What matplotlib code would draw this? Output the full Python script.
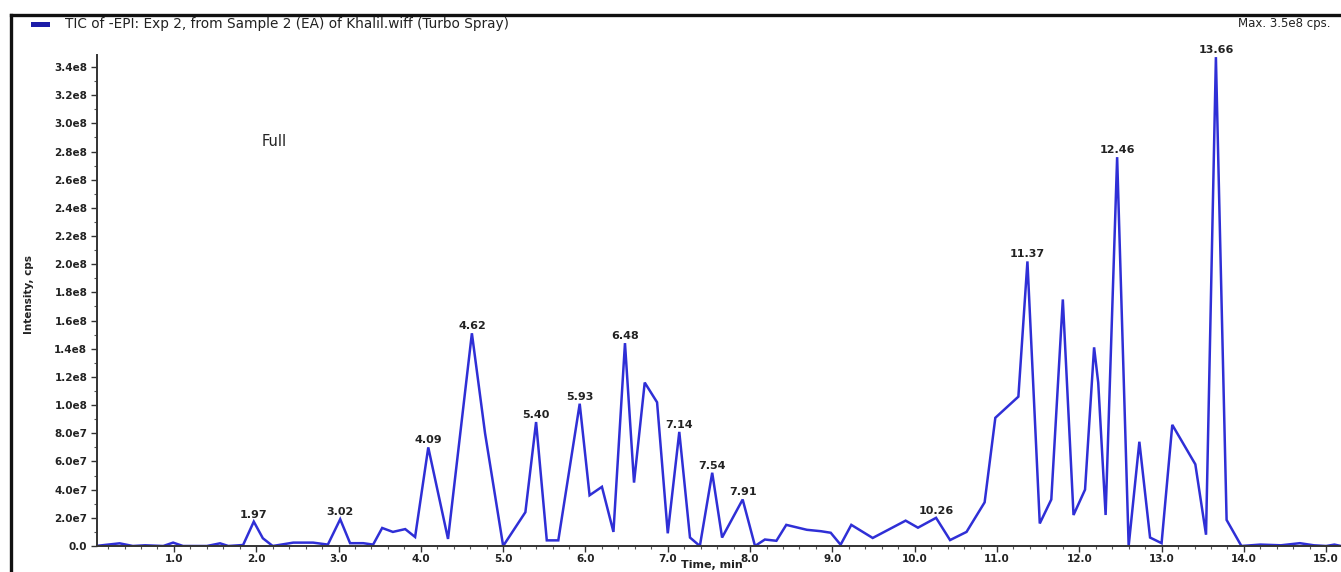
import matplotlib
matplotlib.use("Agg")
import matplotlib.pyplot as plt
from matplotlib.lines import Line2D
from matplotlib.patches import Rectangle
from matplotlib.ticker import FuncFormatter, MultipleLocator
import numpy as np

plt.rcParams['font.family'] = ['DejaVu Sans']

# ---- data (time in min, intensity in cps) ----
time_min = [0.08, 0.20, 0.34, 0.50, 0.65, 0.87, 0.99, 1.11, 1.40, 1.56, 1.66, 1.84,
            1.97, 2.08, 2.20, 2.45, 2.69, 2.87, 3.02, 3.14, 3.30, 3.42, 3.53, 3.66,
            3.81, 3.93, 4.09, 4.33, 4.62, 4.78, 5.00, 5.27, 5.40, 5.53, 5.67, 5.93,
            6.05, 6.20, 6.34, 6.48, 6.59, 6.72, 6.87, 7.00, 7.14, 7.27, 7.39, 7.54,
            7.66, 7.91, 8.06, 8.18, 8.32, 8.44, 8.69, 8.86, 8.98, 9.10, 9.23, 9.49,
            9.89, 10.04, 10.26, 10.43, 10.63, 10.85, 10.98, 11.26, 11.37, 11.52,
            11.66, 11.80, 11.93, 12.07, 12.18, 12.23, 12.32, 12.46, 12.60, 12.73,
            12.86, 13.00, 13.13, 13.41, 13.54, 13.66, 13.79, 13.97, 14.20, 14.45,
            14.68, 14.85, 15.00, 15.10, 15.18]
intensity = [0.02e7, 0.10e7, 0.19e7, 0.0, 0.05e7, 0.0, 0.24e7, 0.0, 0.0, 0.19e7, 0.0, 0.07e7,
             1.73e7, 0.55e7, 0.0, 0.24e7, 0.24e7, 0.10e7, 1.90e7, 0.20e7, 0.20e7, 0.10e7, 1.28e7, 1.00e7,
             1.20e7, 0.64e7, 7.00e7, 0.50e7, 1.51e8, 8.00e7, 0.0, 2.40e7, 8.80e7, 0.40e7, 0.40e7, 1.01e8,
             3.60e7, 4.20e7, 1.00e7, 1.44e8, 4.50e7, 1.16e8, 1.02e8, 0.90e7, 8.10e7, 0.60e7, 0.0, 5.20e7,
             0.60e7, 3.30e7, 0.0, 0.46e7, 0.37e7, 1.50e7, 1.15e7, 1.05e7, 0.94e7, 0.09e7, 1.50e7, 0.57e7,
             1.80e7, 1.30e7, 2.00e7, 0.42e7, 1.00e7, 3.10e7, 9.10e7, 1.06e8, 2.02e8, 1.60e7,
             3.30e7, 1.75e8, 2.20e7, 4.00e7, 1.41e8, 1.16e8, 2.20e7, 2.76e8, 0.0, 7.40e7,
             0.60e7, 0.20e7, 8.60e7, 5.80e7, 0.80e7, 3.47e8, 1.85e7, 0.0, 0.10e7, 0.05e7,
             0.20e7, 0.05e7, 0.0, 0.10e7, 0.0]

peak_labels = ["1.97", "3.02", "4.09", "4.62", "5.40", "5.93", "6.48", "7.14", "7.54",
               "7.91", "10.26", "11.37", "12.46", "13.66"]

y_ticks = [0.0, 2.0e7, 4.0e7, 6.0e7, 8.0e7, 1.0e8, 1.2e8, 1.4e8, 1.6e8, 1.8e8, 2.0e8,
           2.2e8, 2.4e8, 2.6e8, 2.8e8, 3.0e8, 3.2e8, 3.4e8]
x_ticks = [1.0, 2.0, 3.0, 4.0, 5.0, 6.0, 7.0, 8.0, 9.0, 10.0, 11.0, 12.0, 13.0, 14.0, 15.0]

title_text = "TIC of -EPI: Exp 2, from Sample 2 (EA) of Khalil.wiff (Turbo Spray)"
max_text = "Max. 3.5e8 cps."
inner_text = "Full"
x_label = "Time, min"
y_label = "Intensity, cps"

# ---- figure ----
W, H = 1341, 572
fig = plt.figure(figsize=(W / 100, H / 100), dpi=100)
fig.patch.set_facecolor('white')

ax_left, ax_right, ax_bottom, ax_top = 97, 1341, 546, 55
ax = fig.add_axes([ax_left / W, (H - ax_bottom) / H, (ax_right - ax_left) / W,
                   (ax_bottom - ax_top) / H])

line_color = '#2f2fd6'
t = np.array(time_min)
y = np.array(intensity)
ax.plot(t, y, color=line_color, lw=1.8, solid_joinstyle='miter')

ax.set_xlim(0.065, 15.18)
ax.set_ylim(0, 3.485e8)

for s in ['top', 'right']:
    ax.spines[s].set_visible(False)
for s in ['left', 'bottom']:
    ax.spines[s].set_color('#333333')
    ax.spines[s].set_linewidth(1.4)


def yfmt(v, pos):
    if v == 0:
        return "0.0"
    e = int(np.floor(np.log10(abs(v)) + 1e-9))
    m = v / 10 ** e
    return f"{m:.1f}e{e}"


ax.set_yticks(y_ticks)
ax.yaxis.set_major_formatter(FuncFormatter(yfmt))
ax.yaxis.set_minor_locator(MultipleLocator(1.0e7))
ax.set_xticks(x_ticks)
ax.set_xticklabels([f"{v:.1f}" for v in x_ticks])
ax.xaxis.set_minor_locator(MultipleLocator(0.2))

ax.tick_params(axis='both', which='major', labelsize=7.5, length=4, width=1, color='#333333',
               pad=2)
ax.tick_params(axis='y', which='major', pad=3)
ax.tick_params(axis='both', which='minor', length=2, width=0.8, color='#555555')
for lbl in ax.get_xticklabels() + ax.get_yticklabels():
    lbl.set_fontweight('bold')
    lbl.set_color('#222222')

# peak labels
for lab in peak_labels:
    tv = float(lab)
    idx = int(np.argmin(np.abs(t - tv)))
    ax.annotate(lab, xy=(t[idx], y[idx]), xytext=(0, 1.5), textcoords='offset points',
                ha='center', va='bottom', fontsize=8, fontweight='bold', color='#222222')

ax.text((262 - ax_left) / (ax_right - ax_left), (ax_bottom - 141) / (ax_bottom - ax_top),
        inner_text, transform=ax.transAxes, fontsize=10.5, color='#222222',
        ha='left', va='center')

# axis labels
fig.text(29 / W, 1 - 295 / H, y_label, rotation=90, fontsize=7.5, fontweight='bold',
         ha='center', va='center', color='#222222')
fig.text(712 / W, 1 - 565.5 / H, x_label, fontsize=8, fontweight='bold',
         ha='center', va='center', color='#222222')

# header
fig.text(65 / W, 1 - 24 / H, title_text, fontsize=9.8, ha='left', va='center', color='#222222')
fig.text(1238 / W, 1 - 24 / H, max_text, fontsize=8.5, ha='left', va='center', color='#222222')
fig.patches.append(Rectangle((31 / W, 1 - 27 / H), 19 / W, 5 / H, transform=fig.transFigure,
                             facecolor='#1c1ca8', edgecolor='none'))

# outer frame
fig.lines.append(Line2D([11 / W, 1.0], [1 - 15 / H, 1 - 15 / H], transform=fig.transFigure,
                        color='#111111', lw=2.4))
fig.lines.append(Line2D([11 / W, 11 / W], [0, 1 - 15 / H], transform=fig.transFigure,
                        color='#111111', lw=2.4))

fig.savefig("out.png", dpi=100, facecolor='white')
